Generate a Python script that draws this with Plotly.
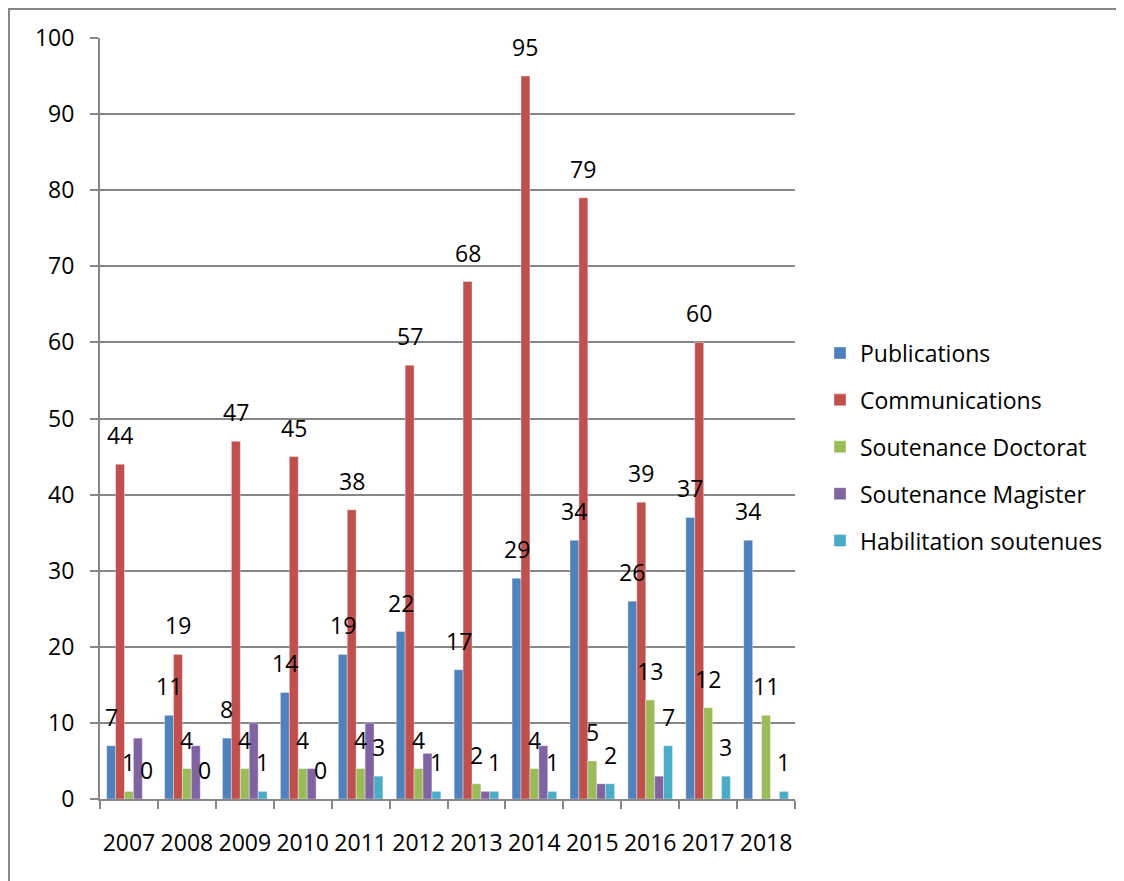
import plotly.graph_objects as go

years = ["2007", "2008", "2009", "2010", "2011", "2012", "2013", "2014", "2015", "2016", "2017", "2018"]
publications = [7, 11, 8, 14, 19, 22, 17, 29, 34, 26, 37, 34]
communications = [44, 19, 47, 45, 38, 57, 68, 95, 79, 39, 60, None]
doctorat = [1, 4, 4, 4, 4, 4, 2, 4, 5, 13, 12, 11]
magister = [8, 7, 10, 4, 10, 6, 1, 7, 2, 3, 0, 0]
habilitation = [0, 0, 1, 0, 3, 1, 1, 1, 2, 7, 3, 1]

series_names = ["Publications", "Communications", "Soutenance Doctorat",
                "Soutenance Magister", "Habilitation soutenues"]
series_values = [publications, communications, doctorat, magister, habilitation]
series_colors = ["#4F81BD", "#C0504D", "#9BBB59", "#8064A2", "#4BACC6"]
series_labeled = [True, True, True, False, True]

FONT = "Open Sans"
FS = 23
bargap = 0.23

fig = go.Figure()
for name, vals, col in zip(series_names, series_values, series_colors):
    fig.add_trace(go.Bar(
        x=years, y=vals, name=name, legendgroup=name,
        marker=dict(color=col, line=dict(color="rgba(255,255,255,0.6)", width=0.6)),
    ))

nser = len(series_names)
bw = (1 - bargap) / nser
annotations = []
for si, (vals, lab) in enumerate(zip(series_values, series_labeled)):
    if not lab:
        continue
    off = (si - (nser - 1) / 2) * bw
    for j, v in enumerate(vals):
        if v is None:
            continue
        annotations.append(dict(
            x=j + off, y=v, xref="x", yref="y", text=str(v), showarrow=False,
            yanchor="bottom", xanchor="center", yshift=11,
            font=dict(family=FONT, size=FS, color="#000000"),
        ))

# page offset (body margin) of the rendered page
OFF = 8
W, H = 1124, 881
# desired plot area in page pixels: x 100..795, y 38..799
L = 100 - OFF
T = 38 - OFF
R = W - (795 - OFF)
B = H - (799 - OFF)
pw, ph = W - L - R, H - T - B

def px_x(p):
    return (p - OFF - L) / pw

def px_y(p):
    return (H - B - (p - OFF)) / ph

fig.update_layout(
    width=W, height=H,
    margin=dict(l=L, r=R, t=T, b=B, autoexpand=False),
    paper_bgcolor="white", plot_bgcolor="white",
    barmode="group", bargap=bargap, bargroupgap=0,
    font=dict(family=FONT, size=FS, color="#000000"),
    annotations=annotations,
    showlegend=True,
    legend=dict(
        x=px_x(820), y=px_y(447), xanchor="left", yanchor="middle",
        traceorder="grouped", tracegroupgap=14,
        font=dict(family=FONT, size=FS, color="#000000"),
        bgcolor="rgba(0,0,0,0)",
    ),
    shapes=[dict(
        type="rect", xref="paper", yref="paper",
        x0=px_x(9), x1=px_x(1140), y0=px_y(900), y1=px_y(9),
        line=dict(color="#868686", width=2), fillcolor="rgba(0,0,0,0)", layer="below",
    )],
)

fig.update_xaxes(
    type="category", showgrid=False, showline=True, linecolor="#868686", linewidth=2,
    ticks="outside", tickson="boundaries", ticklen=8, tickcolor="#868686", tickwidth=2,
    tickfont=dict(family=FONT, size=FS), ticklabelstandoff=22, tickangle=0,
)
fig.update_yaxes(
    range=[0, 100], dtick=10, tick0=0,
    showgrid=True, gridcolor="#868686", gridwidth=1.5,
    showline=True, linecolor="#868686", linewidth=2,
    ticks="outside", ticklen=8, tickcolor="#868686", tickwidth=2,
    tickfont=dict(family=FONT, size=FS), ticklabelstandoff=11,
    zeroline=False,
)

fig.write_html("out.html")
